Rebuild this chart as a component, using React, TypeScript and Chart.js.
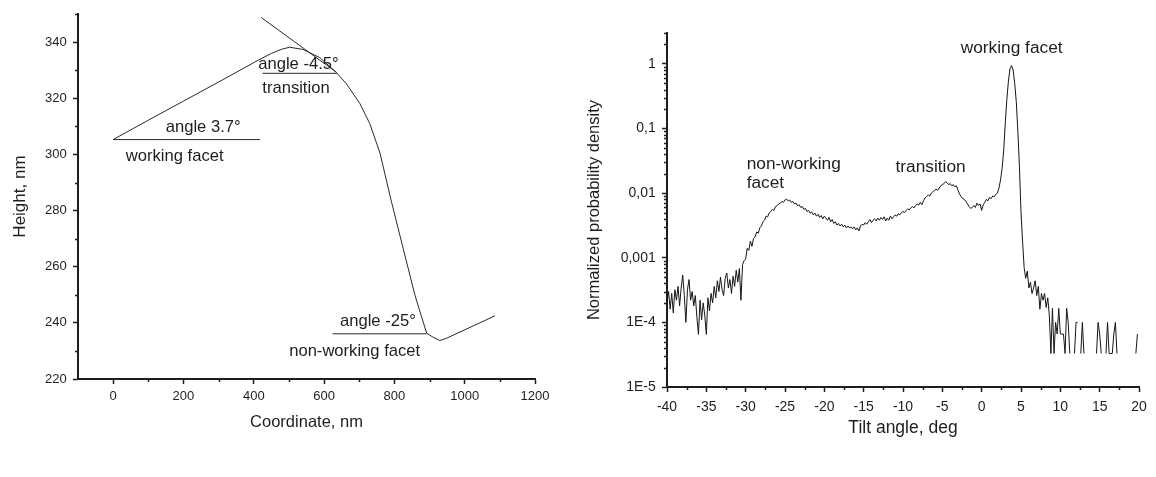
import { useEffect, useRef } from 'react';
import { Chart, registerables } from 'chart.js';

Chart.register(...registerables);

const FONT = "'Liberation Sans', Arial, Helvetica, sans-serif";
const INK = '#1e1e1e';

// ---------- Left chart: surface profile ----------
const profileCoordinate = [0, 100, 200, 300, 413, 450, 480, 502, 540, 588, 635, 664, 702, 730, 759, 792, 825, 858, 872, 892, 910, 929, 948, 1086];
const profileHeight = [305.3, 312.2, 319.0, 325.8, 333.6, 336.0, 337.5, 338.2, 337.4, 334.5, 329.2, 325.1, 318.1, 311.0, 300.5, 283.0, 266.5, 250.1, 244.3, 236.3, 234.9, 233.7, 234.5, 242.5];

const workingGuideX = [0, 418];
const workingGuideY = [305.3, 305.3];
const transitionGuideX = [425, 636];
const transitionGuideY = [328.9, 328.9];
const tangentGuideX = [421, 636];
const tangentGuideY = [348.8, 329.2];
const nonWorkingGuideX = [624, 892];
const nonWorkingGuideY = [236.1, 236.1];

const coordinateTicks = [0, 200, 400, 600, 800, 1000, 1200];
const coordinateMinorTicks = [100, 300, 500, 700, 900, 1100];
const heightTicks = [220, 240, 260, 280, 300, 320, 340];
const heightMinorTicks = [230, 250, 270, 290, 310, 330, 350];

const profileLabels = [
  { text: 'angle 3.7°', x: 256, y: 307.9, align: 'center' },
  { text: 'working facet', x: 175, y: 297.6, align: 'center' },
  { text: 'angle -4.5°', x: 527, y: 330.3, align: 'center' },
  { text: 'transition', x: 520, y: 322.0, align: 'center' },
  { text: 'angle -25°', x: 753, y: 238.9, align: 'center' },
  { text: 'non-working facet', x: 687, y: 228.3, align: 'center' },
];

// ---------- Right chart: tilt angle distribution ----------
const tiltStart = -40;
const tiltStep = 0.2;
const density: (number | null)[] = [
  2.0e-4, 3.0e-4, 1.6e-4, 2.8e-4, 1.4e-4, 3.2e-4, 2.2e-4, 3.6e-4, 1.8e-4, 3.4e-4,
  5.4e-4, 2.6e-4, 1.0e-4, 3.2e-4, 4.6e-4, 2.2e-4, 3.0e-4, 1.8e-4, 2.6e-4, 1.2e-4,
  6.5e-5, 2.2e-4, 1.1e-4, 2.0e-4, 1.3e-4, 6.5e-5, 2.4e-4, 1.5e-4, 2.8e-4, 2.0e-4,
  3.6e-4, 2.4e-4, 4.4e-4, 3.0e-4, 5.0e-4, 3.2e-4, 2.6e-4, 4.8e-4, 5.8e-4, 3.4e-4,
  4.6e-4, 2.8e-4, 5.2e-4, 3.6e-4, 6.4e-4, 4.2e-4, 6.8e-4, 2.2e-4, 7.8e-4, 9.0e-4,
  9.6e-4, 1.4e-3, 1.3e-3, 1.8e-3, 1.5e-3, 2.0e-3, 2.1e-3, 2.5e-3, 2.4e-3, 2.9e-3,
  3.1e-3, 3.6e-3, 3.8e-3, 4.4e-3, 4.3e-3, 5.0e-3, 5.2e-3, 5.6e-3, 5.4e-3, 6.2e-3,
  6.4e-3, 6.8e-3, 7.0e-3, 7.4e-3, 7.2e-3, 7.8e-3, 8.1e-3, 7.6e-3, 7.8e-3, 7.2e-3,
  7.4e-3, 6.8e-3, 7.0e-3, 6.4e-3, 6.6e-3, 6.0e-3, 6.2e-3, 5.6e-3, 5.8e-3, 5.2e-3,
  5.4e-3, 4.9e-3, 5.1e-3, 4.6e-3, 4.9e-3, 4.4e-3, 4.7e-3, 4.2e-3, 4.5e-3, 4.0e-3,
  4.4e-3, 4.1e-3, 3.8e-3, 4.2e-3, 3.6e-3, 3.9e-3, 3.4e-3, 3.6e-3, 3.2e-3, 3.4e-3,
  3.1e-3, 3.3e-3, 3.0e-3, 3.2e-3, 2.9e-3, 3.1e-3, 2.9e-3, 3.0e-3, 2.8e-3, 3.0e-3,
  2.7e-3, 2.9e-3, 2.6e-3, 3.1e-3, 3.3e-3, 3.2e-3, 3.5e-3, 3.3e-3, 3.6e-3, 3.9e-3,
  3.5e-3, 3.8e-3, 4.0e-3, 3.7e-3, 4.1e-3, 3.8e-3, 4.2e-3, 3.9e-3, 4.3e-3, 3.7e-3,
  4.1e-3, 3.8e-3, 4.4e-3, 4.0e-3, 4.3e-3, 4.6e-3, 4.4e-3, 4.8e-3, 4.6e-3, 5.0e-3,
  5.2e-3, 5.0e-3, 5.4e-3, 5.7e-3, 5.5e-3, 5.9e-3, 6.2e-3, 5.9e-3, 6.4e-3, 6.8e-3,
  6.5e-3, 7.2e-3, 6.6e-3, 7.6e-3, 8.4e-3, 8.8e-3, 9.4e-3, 9.0e-3, 1.0e-2, 1.05e-2,
  1.1e-2, 1.15e-2, 1.1e-2, 1.2e-2, 1.3e-2, 1.35e-2, 1.4e-2, 1.5e-2, 1.45e-2, 1.35e-2,
  1.4e-2, 1.3e-2, 1.35e-2, 1.25e-2, 1.3e-2, 1.1e-2, 9.6e-3, 8.8e-3, 8.2e-3, 8.0e-3,
  7.4e-3, 6.8e-3, 6.2e-3, 5.8e-3, 6.0e-3, 6.4e-3, 6.0e-3, 7.0e-3, 6.4e-3, 6.8e-3,
  5.4e-3, 6.6e-3, 7.2e-3, 8.0e-3, 7.6e-3, 8.6e-3, 8.2e-3, 9.0e-3, 8.8e-3, 9.6e-3,
  1.0e-2, 1.2e-2, 1.6e-2, 2.4e-2, 4.6e-2, 1.2e-1, 2.8e-1, 5.4e-1, 8.4e-1, 9.4e-1,
  8.0e-1, 5.0e-1, 2.6e-1, 9.0e-2, 2.6e-2, 5.0e-3, 1.8e-3, 7.0e-4, 4.8e-4, 6.2e-4,
  3.4e-4, 4.2e-4, 2.8e-4, 3.4e-4, 4.4e-4, 2.6e-4, 3.6e-4, 1.6e-4, 2.8e-4, 2.2e-4,
  2.8e-4, 1.7e-4, 2.4e-4, 1.3e-4, 3.3e-5, 1.65e-4, 3.3e-5, 1.0e-4, 6.6e-5, 1.65e-4,
  6.6e-5, 6.6e-5, 6.6e-5, 3.3e-5, 1.65e-4, 1.0e-4, 3.3e-5, null, null, 3.3e-5,
  1.0e-4, 1.0e-4, null, 3.3e-5, 1.0e-4, 3.3e-5, null, null, null, null,
  null, null, null, 3.3e-5, 1.0e-4, 6.6e-5, 3.3e-5, null, null, 3.3e-5,
  1.0e-4, 3.3e-5, 3.3e-5, 3.3e-5, 6.6e-5, 1.0e-4, 3.3e-5, null, null, null,
  null, null, null, null, null, null, null, null, 3.3e-5, 6.6e-5,
  null,
];

const tiltTicks = [-40, -35, -30, -25, -20, -15, -10, -5, 0, 5, 10, 15, 20];
const tiltMinorTicks = [-37.5, -32.5, -27.5, -22.5, -17.5, -12.5, -7.5, -2.5, 2.5, 7.5, 12.5, 17.5];
const densityTicks = [1e-5, 1e-4, 1e-3, 1e-2, 1e-1, 1];
const densityTickLabels = ['1E-5', '1E-4', '0,001', '0,01', '0,1', '1'];
const densityMinorMultipliers = [2, 3, 4, 5, 6, 7, 8, 9];
const densityMax = 3;

const densityLabels = [
  { text: 'working facet', x: 3.81, y: 1.48, align: 'center' },
  { text: 'non-working', x: -29.87, y: 0.0239, align: 'left' },
  { text: 'facet', x: -29.87, y: 0.0119, align: 'left' },
  { text: 'transition', x: -6.49, y: 0.0211, align: 'center' },
];

// ---------- helpers ----------
function minorTickPlugin(id: string, xValues: number[], yValues: number[], len: number) {
  return {
    id,
    afterDraw(chart: any) {
      const { ctx, chartArea } = chart;
      const xs = chart.scales.x;
      const ys = chart.scales.y;
      ctx.save();
      ctx.strokeStyle = INK;
      ctx.lineWidth = 1.5;
      ctx.beginPath();
      for (const v of xValues) {
        const p = Math.round(xs.getPixelForValue(v)) + 0.5;
        ctx.moveTo(p, chartArea.bottom);
        ctx.lineTo(p, chartArea.bottom + len);
      }
      for (const v of yValues) {
        const p = Math.round(ys.getPixelForValue(v)) + 0.5;
        ctx.moveTo(chartArea.left, p);
        ctx.lineTo(chartArea.left - len, p);
      }
      ctx.stroke();
      ctx.restore();
    },
  };
}

function labelPlugin(id: string, labels: { text: string; x: number; y: number; align: string }[], size: number) {
  return {
    id,
    afterDatasetsDraw(chart: any) {
      const { ctx } = chart;
      const xs = chart.scales.x;
      const ys = chart.scales.y;
      ctx.save();
      ctx.fillStyle = INK;
      ctx.font = `${size}px ${FONT}`;
      ctx.textBaseline = 'alphabetic';
      for (const l of labels) {
        ctx.textAlign = l.align as CanvasTextAlign;
        ctx.fillText(l.text, xs.getPixelForValue(l.x), ys.getPixelForValue(l.y));
      }
      ctx.restore();
    },
  };
}

function axisStyle(tickSize: number, tickPad: number) {
  return {
    border: { display: true, color: INK, width: 2 },
    grid: { display: true, drawOnChartArea: false, drawTicks: true, tickLength: 5, tickWidth: 1.5, tickColor: INK },
    ticks: { color: INK, font: { family: FONT, size: tickSize }, padding: tickPad, autoSkip: false, maxRotation: 0, minRotation: 0 },
  };
}

function pairs(xs: number[], ys: (number | null)[]) {
  return xs.map((x, i) => ({ x, y: ys[i] }));
}

function lineSet(data: any[]) {
  return { data, showLine: true, borderColor: '#2a2a2a', borderWidth: 1, pointRadius: 0, tension: 0, fill: false, spanGaps: false };
}

function leftConfig(): any {
  const base = axisStyle(13, 5);
  const baseY = axisStyle(13, 6.3);
  return {
    type: 'scatter',
    data: {
      datasets: [
        lineSet(pairs(profileCoordinate, profileHeight)),
        lineSet(pairs(workingGuideX, workingGuideY)),
        lineSet(pairs(transitionGuideX, transitionGuideY)),
        lineSet(pairs(tangentGuideX, tangentGuideY)),
        lineSet(pairs(nonWorkingGuideX, nonWorkingGuideY)),
      ],
    },
    options: {
      animation: false,
      responsive: false,
      devicePixelRatio: 1,
      layout: { padding: { left: 0, right: 25, top: 9, bottom: 0 } },
      plugins: { legend: { display: false }, tooltip: { enabled: false } },
      scales: {
        x: {
          type: 'linear',
          min: -100,
          max: 1200,
          bounds: 'data',
          ...base,
          ticks: { ...base.ticks, callback: (v: number) => String(v) },
          afterBuildTicks: (s: any) => { s.ticks = coordinateTicks.map((value) => ({ value })); },
          afterFit: (s: any) => { s.height = 98; },
          title: { display: true, text: 'Coordinate, nm', color: INK, font: { family: FONT, size: 16.5 }, padding: { top: 0, bottom: 45 } },
        },
        y: {
          type: 'linear',
          min: 220,
          max: 350,
          bounds: 'data',
          ...baseY,
          ticks: { ...baseY.ticks, callback: (v: number) => String(v) },
          afterBuildTicks: (s: any) => { s.ticks = heightTicks.map((value) => ({ value })); },
          afterFit: (s: any) => { s.width = 78; },
          title: { display: true, text: 'Height, nm', color: INK, font: { family: FONT, size: 17 }, padding: { top: 9.8, bottom: 0 } },
        },
      },
    },
    plugins: [
      minorTickPlugin('leftMinor', coordinateMinorTicks, heightMinorTicks, 3),
      labelPlugin('leftLabels', profileLabels, 16.6),
    ],
  };
}

function rightConfig(): any {
  const base = axisStyle(14, 6.4);
  const baseY = axisStyle(14, 6.3);
  const tiltData = density.map((y, i) => ({ x: Math.round((tiltStart + i * tiltStep) * 10) / 10, y }));
  const minorY: number[] = [];
  for (const d of densityTicks) {
    for (const m of densityMinorMultipliers) {
      const v = d * m;
      if (v <= densityMax) minorY.push(v);
    }
  }
  return {
    type: 'scatter',
    data: { datasets: [{ ...lineSet(tiltData), borderColor: '#151515' }] },
    options: {
      animation: false,
      responsive: false,
      devicePixelRatio: 1,
      layout: { padding: { left: 0, right: 17, top: 33, bottom: 0 } },
      plugins: { legend: { display: false }, tooltip: { enabled: false } },
      scales: {
        x: {
          type: 'linear',
          min: -40,
          max: 20,
          bounds: 'data',
          ...base,
          ticks: { ...base.ticks, callback: (v: number) => String(v) },
          afterBuildTicks: (s: any) => { s.ticks = tiltTicks.map((value) => ({ value })); },
          afterFit: (s: any) => { s.height = 90; },
          title: { display: true, text: 'Tilt angle, deg', color: INK, font: { family: FONT, size: 17.5 }, padding: { top: 0, bottom: 38.5 } },
        },
        y: {
          type: 'logarithmic',
          min: 1e-5,
          max: densityMax,
          bounds: 'data',
          ...baseY,
          ticks: {
            ...baseY.ticks,
            callback: (v: number) => {
              const i = densityTicks.findIndex((t) => Math.abs(Math.log10(t) - Math.log10(v)) < 1e-6);
              return i >= 0 ? densityTickLabels[i] : '';
            },
          },
          afterBuildTicks: (s: any) => { s.ticks = densityTicks.map((value) => ({ value })); },
          afterFit: (s: any) => { s.width = 107; },
          title: { display: true, text: 'Normalized probability density', color: INK, font: { family: FONT, size: 16.5 }, padding: { top: 25, bottom: 0 } },
        },
      },
    },
    plugins: [
      minorTickPlugin('rightMinor', tiltMinorTicks, minorY, 3),
      labelPlugin('rightLabels', densityLabels, 17.3),
    ],
  };
}

export default function App() {
  const leftRef = useRef<HTMLCanvasElement>(null);
  const rightRef = useRef<HTMLCanvasElement>(null);

  useEffect(() => {
    const a = new Chart(leftRef.current as HTMLCanvasElement, leftConfig());
    const b = new Chart(rightRef.current as HTMLCanvasElement, rightConfig());
    return () => {
      a.destroy();
      b.destroy();
    };
  }, []);

  return (
    <div style={{ position: 'fixed', left: 0, top: 0, width: 1156, height: 477, background: '#ffffff', overflow: 'hidden' }}>
      <canvas ref={leftRef} width={560} height={477} style={{ position: 'absolute', left: 0, top: 0, width: 560, height: 477 }} />
      <canvas ref={rightRef} width={596} height={477} style={{ position: 'absolute', left: 560, top: 0, width: 596, height: 477 }} />
    </div>
  );
}
